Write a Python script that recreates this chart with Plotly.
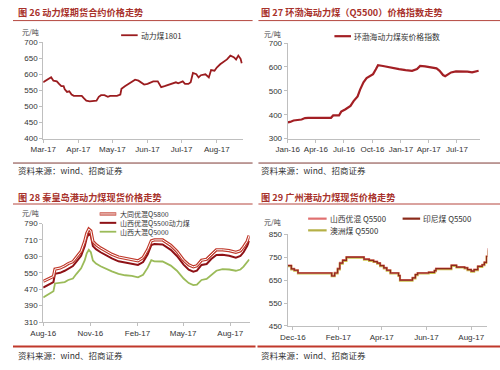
import pandas as pd
import plotly.graph_objects as go

W, H = 500, 370

# ---------------- data ----------------
# Panel 26: 动力煤1801 futures (day offsets from 2017-03-01)
p26_start = "2017-03-01"
p26_days = [0,2,5,7,9,12,14,16,18,19,21,23,25,27,29,34,36,38,41,44,47,49,51,54,57,59,62,65,68,69,
            72,75,78,81,84,87,89,92,97,101,104,107,109,112,117,119,123,125,128,130,132,135,137,139,
            143,146,148,151,153,156,159,162,165,168,170,172,174,175]
p26_vals = [575,579,586,591,580,578,570,563,563,553,545,547,537,533,533,533,525,518,516,517,
            518,530,535,535,530,533,532,533,537,555,563,570,575,583,580,572,568,570,578,578,
            560,563,565,570,575,572,578,570,570,575,604,600,590,597,600,590,613,611,621,631,
            638,646,658,653,646,658,648,634]

# Panel 27: 环渤海动力煤价格指数 (day offsets from 2016-01-01)
p27_start = "2016-01-01"
p27_days = [0,8,19,29,45,56,66,140,147,166,173,187,203,213,226,234,245,255,266,276,
            285,292,308,329,344,360,381,402,418,428,444,460,481,491,502,509,518,528,544,560,
            581,596,617]
p27_vals = [368,370,376,378,380,386,387,387,397,397,413,423,437,457,477,505,536,553,561,570,
            590,607,604,598,594,591,587,584,591,604,602,598,594,584,566,561,570,577,581,581,
            580,577,584]

# Panel 28: 秦皇岛港 spot prices (day offsets from 2016-08-01)
p28_start = "2016-08-01"
p28_days = [0,11,20,23,33,42,49,58,65,74,81,85,89,93,97,103,112,122,134,147,
            160,173,185,195,204,211,217,233,242,249,261,274,284,293,300,309,319,328,338,350,
            363,376,385,391,398,402]
p28_datong = [508,521,532,568,573,584,595,604,627,655,703,742,763,754,703,687,671,655,640,627,
              620,616,608,624,663,706,710,710,695,684,655,611,589,579,584,611,616,640,662,662,
              658,650,657,676,703,732]
p28_shanxi55 = [478,492,505,545,550,560,572,583,605,633,680,720,740,730,680,665,650,635,620,606,
                600,596,588,602,640,685,690,688,675,662,632,590,565,555,560,588,593,617,637,638,
                633,624,632,650,680,705]
p28_shanxi50 = [430,445,460,498,500,505,515,522,545,572,610,645,662,650,610,595,582,570,557,545,
                538,535,528,540,575,612,606,605,595,585,560,522,500,490,492,515,520,540,560,568,
                566,560,566,580,600,615]

# Panel 29: 广州港 spot prices (day offsets from 2016-12-01), step series
p29_start = "2016-12-01"
p29_days = [-7,-2,2,7,53,57,61,64,68,73,97,104,110,115,119,124,128,133,144,146,
            163,167,170,185,193,195,216,223,234,238,243,247,252,258,261,264,266]
p29_shanxi = [714,700,694,682,670,683,701,726,738,751,742,737,732,725,714,704,694,682,671,651,
              661,675,682,685,692,701,715,708,704,697,690,697,711,718,728,754,789]
p29_indo = [713,699,693,681,668,681,699,724,736,750,741,736,731,724,713,703,693,681,670,650,
            660,674,681,684,691,700,714,707,703,696,689,696,710,717,727,753,789]
p29_aus = [711,697,691,679,667,679,697,722,734,748,739,734,729,722,711,701,691,679,668,648,
           658,672,679,682,689,698,712,705,701,694,687,694,708,715,725,751,780]

y26_ticks = [400, 450, 500, 550, 600, 650, 700]
y27_ticks = [300, 400, 500, 600, 700]
y28_ticks = [310, 390, 470, 550, 630, 710, 790]
y29_ticks = [450, 550, 650, 750, 850]


def to_dates(start, days):
    return [pd.Timestamp(start) + pd.Timedelta(days=d) for d in days]


def px(x):
    return x / W


def py(y):
    return 1 - y / H


BASE_FONT = "Liberation Sans, Arial, 'Noto Sans CJK SC', sans-serif"
CJK_FONT = "'Noto Sans CJK SC', 'Liberation Sans', sans-serif"
TITLE_COLOR = "#a8322b"
AX_COLOR = "#bfbfbf"
TICK_FONT = dict(family=BASE_FONT, size=8, color="#333333")

fig = go.Figure()

# Panel 26
fig.add_trace(go.Scatter(x=to_dates(p26_start, p26_days), y=p26_vals, mode="lines",
                         line=dict(color="#9b1c1f", width=1.8), name="动力煤1801",
                         xaxis="x", yaxis="y", showlegend=False))
# Panel 27
fig.add_trace(go.Scatter(x=to_dates(p27_start, p27_days), y=p27_vals, mode="lines",
                         line=dict(color="#a31f24", width=2.2), name="环渤海动力煤炭价格指数",
                         xaxis="x2", yaxis="y2", showlegend=False))
# Panel 28
d28 = to_dates(p28_start, p28_days)
fig.add_trace(go.Scatter(x=d28, y=p28_shanxi50, mode="lines",
                         line=dict(color="#9bbb59", width=1.8), name="山西大混Q5000",
                         xaxis="x3", yaxis="y3", showlegend=False))
fig.add_trace(go.Scatter(x=d28, y=p28_shanxi55, mode="lines",
                         line=dict(color="#8e1116", width=2), name="山西优混Q5500动力煤",
                         xaxis="x3", yaxis="y3", showlegend=False))
fig.add_trace(go.Scatter(x=d28, y=p28_datong, mode="lines",
                         line=dict(color="#c0392b", width=3.2), name="大同优混Q5800",
                         xaxis="x3", yaxis="y3", showlegend=False))
fig.add_trace(go.Scatter(x=d28, y=p28_datong, mode="lines",
                         line=dict(color="#ffffff", width=1.0), name="大同优混Q5800",
                         xaxis="x3", yaxis="y3", showlegend=False, hoverinfo="skip"))
# Panel 29
d29 = to_dates(p29_start, p29_days)
fig.add_trace(go.Scatter(x=d29, y=p29_aus, mode="lines", line_shape="hv",
                         line=dict(color="#c9c24a", width=2.2), name="澳洲煤 Q5500",
                         xaxis="x4", yaxis="y4", showlegend=False))
fig.add_trace(go.Scatter(x=d29, y=p29_shanxi, mode="lines", line_shape="hv",
                         line=dict(color="#e07070", width=1.8), name="山西优混 Q5500",
                         xaxis="x4", yaxis="y4", showlegend=False))
fig.add_trace(go.Scatter(x=d29, y=p29_indo, mode="lines", line_shape="hv",
                         line=dict(color="#8b2a1a", width=1.2), name="印尼煤 Q5500",
                         xaxis="x4", yaxis="y4", showlegend=False))


def xax(domain, anchor, rng, tick0, dtick):
    return dict(domain=domain, anchor=anchor, type="date", range=rng, tick0=tick0, dtick=dtick,
                tickformat="%b-%y", showline=True, linecolor=AX_COLOR, linewidth=1,
                ticks="outside", ticklen=3, tickcolor=AX_COLOR, showgrid=False, zeroline=False,
                tickfont=TICK_FONT, fixedrange=True)


def yax(domain, anchor, rng, ticks):
    return dict(domain=domain, anchor=anchor, range=rng, tickvals=ticks,
                showline=True, linecolor=AX_COLOR, linewidth=1,
                ticks="outside", ticklen=3, tickcolor=AX_COLOR, showgrid=False, zeroline=False,
                tickfont=TICK_FONT, fixedrange=True)


shapes = []
annotations = []


def hline(x0, x1, y, color, width):
    shapes.append(dict(type="line", xref="paper", yref="paper", x0=px(x0), x1=px(x1),
                       y0=py(y), y1=py(y), line=dict(color=color, width=width)))


def text(x, y, s, size, color="#333333", bold=False, family=CJK_FONT, xanchor="left", align="left"):
    annotations.append(dict(x=px(x), y=py(y), xref="paper", yref="paper",
                            text=("<b>%s</b>" % s) if bold else s,
                            showarrow=False, xanchor=xanchor, yanchor="middle", align=align,
                            borderpad=0,
                            font=dict(size=size, color=color, family=family)))


# Titles and frames
for (tx, ty, lx0, lx1, ly, title) in [
    (4, 8.5, 0, 246, 17, "图 26 动力煤期货合约价格走势"),
    (254, 8.5, 252, 500, 17, "图 27 环渤海动力煤（Q5500）价格指数走势"),
    (4, 197.5, 0, 246, 205, "图 28 秦皇岛港动力煤现货价格走势"),
    (254, 197.5, 252, 500, 205, "图 29 广州港动力煤现货价格走势"),
]:
    text(tx, ty, title, 9.2, TITLE_COLOR, bold=True)
    hline(lx0, lx1, ly, "#b5473f", 1)

# Source lines
hline(0, 246, 163, "#7f3a36", 1)
hline(252, 500, 163, "#7f3a36", 1)
hline(0, 249, 351, "#c0392b", 2)
hline(251, 500, 351, "#c0392b", 2)
for (sx, sy) in [(4, 170), (254, 170), (4, 359.5), (254, 359.5)]:
    text(sx, sy, "资料来源：wind、招商证券", 8.5, "#333333")

# Unit labels
for (ux, uy) in [(8, 28.5), (257, 30.5), (8, 214.5), (257, 223)]:
    text(ux, uy, "元/吨", 7, "#444444")

# Manual legends
LEG = 7.8
hline(111, 128, 32, "#9b1c1f", 1.8)
text(130, 32, "动力煤1801", LEG)
hline(330, 347, 33, "#a31f24", 2.2)
text(349, 33, "环渤海动力煤炭价格指数", LEG)

# Panel 28 legend: one multi-line text block, swatches on its rows
hline(89, 106, 215.2, "#c0392b", 3.2)
hline(89.5, 105.5, 215.2, "#ffffff", 1.0)
hline(89, 106, 224.3, "#8e1116", 2)
hline(89, 106, 233.4, "#9bbb59", 1.8)
text(109, 224.3, "大同优混Q5800<br>山西优混Q5500动力煤<br>山西大混Q5000", 7)

hline(303, 322, 220, "#e07070", 2.2)
text(324, 220, "山西优混 Q5500", LEG)
hline(400, 418, 220, "#8b2a1a", 2.2)
text(420, 220, "印尼煤 Q5500", LEG)
hline(303, 322, 232, "#b5b046", 2.2)
text(324, 232, "澳洲煤 Q5500", LEG)

fig.update_layout(
    width=W, height=H, margin=dict(l=0, r=0, t=0, b=0),
    paper_bgcolor="white", plot_bgcolor="white",
    font=dict(family=BASE_FONT, size=8, color="#333333"),
    showlegend=False,
    xaxis=xax([px(31), px(236)], "y", ["2017-03-01", "2017-08-24"], "2017-03-01", "M1"),
    yaxis=yax([py(138), py(39)], "x", [400, 700], y26_ticks),
    xaxis2=xax([px(282), px(479)], "y2", ["2016-01-01", "2017-09-12"], "2016-01-01", "M3"),
    yaxis2=yax([py(138), py(40)], "x2", [300, 700], y27_ticks),
    xaxis3=xax([px(31), px(243)], "y3", ["2016-08-01", "2017-09-08"], "2016-08-01", "M3"),
    yaxis3=yax([py(326), py(225)], "x3", [310, 790], y28_ticks),
    xaxis4=xax([px(282), px(487)], "y4", ["2016-11-24", "2017-08-23"], "2016-12-01", "M2"),
    yaxis4=yax([py(330), py(236)], "x4", [450, 850], y29_ticks),
    shapes=shapes, annotations=annotations,
)

fig.write_html("out.html", config={"displayModeBar": False},
               post_script="document.body.style.margin='0';document.body.style.overflow='hidden';")
